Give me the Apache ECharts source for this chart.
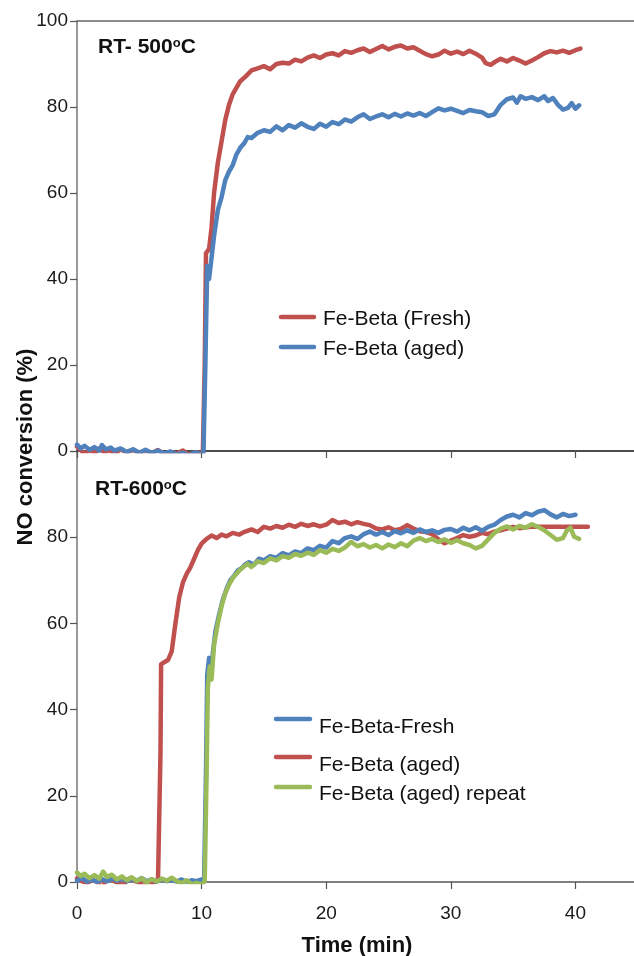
<!DOCTYPE html>
<html>
<head>
<meta charset="utf-8">
<script src="https://cdn.jsdelivr.net/npm/echarts@6/dist/echarts.min.js"></script>
<style>html,body{margin:0;padding:0;background:#fff;}#chart{width:634px;height:956px;}</style>
</head>
<body>
<div id="chart"></div>
<script>
// ---- Data (time in min, NO conversion in %) ----
var xTicks = [0, 10, 20, 30, 40];
var yTicks = [0, 20, 40, 60, 80, 100];

// Panel 1: RT-500oC
var rt500Fresh = [
 [0,1.0],[0.3,0.2],[0.6,-0.8],[1.0,0.3],[1.4,-0.5],[1.8,0.6],[2.2,-0.3],[2.6,0.2],[3.0,-0.6],[3.5,0.4],
 [4.0,-0.4],[4.5,0.3],[5.0,-0.7],[5.5,0.1],[6.0,-0.5],[6.5,0.2],[7.0,-0.8],[7.5,-0.2],[8.0,-0.6],[8.5,0.1],
 [9.0,-0.9],[9.5,-0.3],[9.9,-0.5],[10.1,-0.3],[10.25,20],[10.35,46],[10.6,47],[10.8,52],[11.0,60],[11.3,67],
 [11.6,72],[11.9,77],[12.2,80.5],[12.5,83],[12.8,84.5],[13.1,86],[13.5,87],[14.0,88.5],[14.5,89],[15.0,89.5],
 [15.5,88.8],[16.0,90],[16.5,90.3],[17.0,90.1],[17.5,91],[18.0,90.6],[18.5,91.5],[19.0,92],[19.5,91.4],[20.0,92.2],
 [20.5,92.5],[21,92],[21.5,93],[22,92.6],[22.5,93.2],[23,93.6],[23.5,92.8],[24,93.5],[24.5,94.2],[25,93.4],
 [25.5,94],[26,94.3],[26.5,93.6],[27,93.9],[27.5,93.1],[28,92.3],[28.5,91.8],[29,92.2],[29.5,93.1],[30,92.4],
 [30.5,92.9],[31,92.3],[31.5,93.1],[32,92.4],[32.5,91.5],[32.8,90.2],[33.2,89.8],[33.6,90.6],[34,91.2],[34.5,90.6],
 [35,91.4],[35.5,90.8],[36,90.1],[36.5,90.8],[37,91.6],[37.5,92.5],[38,93],[38.5,92.7],[39,93.1],[39.5,92.6],
 [40,93.2],[40.4,93.6]
];
var rt500Aged = [
 [0,1.5],[0.3,0.6],[0.6,1.2],[1.0,0.3],[1.4,0.9],[1.8,0.1],[2.0,1.4],[2.3,0.4],[2.7,0.8],[3.0,0.1],
 [3.5,0.6],[4.0,-0.2],[4.5,0.4],[5.0,-0.4],[5.5,0.3],[6.0,-0.5],[6.5,0.1],[7.0,-0.6],[7.5,-0.1],[8.0,-0.8],
 [8.5,-0.4],[9.0,-1.0],[9.5,-0.3],[9.9,-0.8],[10.15,-0.5],[10.3,20],[10.45,43],[10.6,40],[10.8,45],[11.0,50],
 [11.3,56],[11.6,59],[11.9,63],[12.2,65],[12.5,66.5],[12.8,69],[13.1,70.5],[13.4,71.5],[13.7,73],[14.0,72.8],
 [14.5,74],[15.0,74.6],[15.5,74.2],[16.0,75.5],[16.5,74.6],[17.0,75.8],[17.5,75.2],[18.0,76.2],[18.5,75.4],[19.0,74.9],
 [19.5,76.1],[20.0,75.4],[20.5,76.5],[21.0,76.0],[21.5,77.1],[22,76.6],[22.5,77.6],[23,78.3],[23.5,77.2],[24,77.8],
 [24.5,78.3],[25,77.6],[25.5,78.4],[26,77.8],[26.5,78.5],[27,78.0],[27.5,78.6],[28,77.9],[28.5,78.8],[29,79.7],
 [29.5,79.2],[30,79.6],[30.5,79.1],[31,78.6],[31.5,79.3],[32,79.0],[32.5,78.8],[33,77.9],[33.5,78.3],[34,80.5],
 [34.5,81.8],[35,82.2],[35.3,81.0],[35.6,82.5],[36,81.9],[36.5,82.3],[37,81.6],[37.5,82.5],[37.8,81.4],[38.2,82.1],
 [38.6,80.5],[39,79.4],[39.4,79.8],[39.7,80.9],[40,79.6],[40.3,80.4]
];

// Panel 2: RT-600oC
var rt600Fresh = [
 [0,0.3],[0.4,0.9],[0.8,0.1],[1.2,0.6],[1.6,0.0],[2.0,0.7],[2.4,0.2],[2.8,0.8],[3.2,0.3],[3.6,0.9],
 [4.0,0.2],[4.4,0.7],[4.8,0.3],[5.2,0.9],[5.6,0.2],[6.0,0.6],[6.4,0.1],[6.8,0.7],[7.2,0.2],[7.6,0.5],
 [8.0,0.1],[8.4,0.6],[8.8,0.0],[9.2,0.4],[9.6,0.2],[10.0,0.6],[10.2,0.3],[10.35,25],[10.45,48],[10.6,52],
 [10.75,49],[10.9,53],[11.1,58],[11.4,62],[11.7,65.5],[12.0,68],[12.3,70],[12.6,71],[12.9,72.3],[13.2,72.8],
 [13.5,73.7],[13.8,74.2],[14.2,73.6],[14.6,75.0],[15.0,74.6],[15.5,75.6],[16.0,75.2],[16.5,76.3],[17.0,75.8],[17.5,76.7],
 [18.0,76.3],[18.5,77.4],[19.0,77.0],[19.5,78.0],[20.0,77.6],[20.5,79.1],[21.0,78.6],[21.5,79.8],[22.0,80.2],[22.5,79.6],
 [23.0,80.7],[23.5,81.3],[24.0,80.6],[24.5,81.2],[25.0,80.5],[25.5,81.4],[26,80.9],[26.5,81.6],[27,81.0],[27.5,81.8],
 [28,81.2],[28.5,81.6],[29,81.0],[29.5,81.7],[30,81.9],[30.5,81.3],[31,82.2],[31.5,81.6],[32,82.3],[32.5,81.5],
 [33,82.4],[33.5,82.9],[34,84.0],[34.5,84.8],[35,85.2],[35.5,84.6],[36,85.6],[36.5,85.1],[37,85.9],[37.5,86.3],
 [38,85.3],[38.5,84.6],[39,85.4],[39.5,84.9],[40.0,85.2]
];
var rt600Aged = [
 [0,0.8],[0.4,0.2],[0.8,-0.3],[1.2,0.5],[1.6,0.1],[2.0,-1.5],[2.3,0.3],[2.7,0.8],[3.1,0.0],[3.5,-0.6],
 [3.7,-2.5],[3.9,0.4],[4.3,0.9],[4.7,0.2],[5.1,-0.4],[5.4,-1.2],[5.7,0.1],[6.1,-0.2],[6.5,0.3],[6.65,0.1],
 [6.7,30],[6.75,50.5],[7.0,51],[7.3,51.5],[7.6,53.5],[7.9,60],[8.2,66],[8.5,69.5],[8.8,71.5],[9.1,73],
 [9.4,75],[9.7,77],[10.0,78.5],[10.4,79.6],[10.8,80.4],[11.2,79.8],[11.6,80.6],[12.0,80.2],[12.5,81.0],[13.0,80.6],
 [13.5,81.3],[14.0,81.8],[14.5,81.2],[15.0,82.4],[15.5,82.0],[16.0,82.6],[16.5,82.2],[17,82.9],[17.5,82.4],[18,83.1],
 [18.5,82.6],[19,83.0],[19.5,82.5],[20,82.9],[20.5,84.0],[21,83.3],[21.5,83.6],[22,83.0],[22.5,83.5],[23,83.1],
 [23.5,82.8],[24,82.0],[24.5,81.8],[25,82.3],[25.5,81.6],[26,81.9],[26.5,82.8],[27,82.0],[27.5,81.4],[28,81.2],
 [28.5,80.7],[29,79.5],[29.5,78.6],[30,79.2],[30.5,79.8],[31,80.5],[31.5,80.1],[32,80.4],[32.5,81.0],[33,80.7],
 [33.5,81.3],[34,81.6],[34.5,82.0],[35,82.4],[35.5,82.1],[36,82.3],[36.5,82.4],[37,82.4],[41,82.4]
];
var rt600AgedRepeat = [
 [0,2.2],[0.3,1.4],[0.6,1.9],[1.0,0.9],[1.4,1.6],[1.8,0.8],[2.1,2.4],[2.4,1.2],[2.8,1.7],[3.2,0.6],
 [3.6,1.3],[4.0,0.4],[4.4,1.1],[4.8,0.2],[5.2,0.9],[5.6,-0.1],[6.0,0.7],[6.4,0.1],[6.8,0.8],[7.2,0.3],
 [7.6,1.0],[8.0,0.2],[8.4,-0.3],[8.8,0.4],[9.2,-0.5],[9.6,-0.2],[10.0,-0.6],[10.25,0.2],[10.4,25],[10.5,45],
 [10.65,50],[10.8,47],[11.0,55],[11.3,60],[11.6,64],[11.9,67],[12.2,69],[12.5,70.5],[12.8,71.5],[13.1,72.5],
 [13.4,73.2],[13.7,73.8],[14.0,73.1],[14.5,74.4],[15.0,74.0],[15.5,75.1],[16.0,74.6],[16.5,75.6],[17.0,75.2],[17.5,76.1],
 [18.0,75.7],[18.5,76.4],[19.0,75.9],[19.5,77.0],[20.0,76.4],[20.5,77.3],[21.0,76.8],[21.5,77.6],[22.0,78.9],[22.5,77.9],
 [23.0,78.4],[23.5,77.6],[24,78.2],[24.5,77.4],[25,78.3],[25.5,77.7],[26,78.6],[26.5,77.9],[27,79.2],[27.5,79.8],
 [28,79.1],[28.5,79.6],[29,78.9],[29.5,79.5],[30,78.7],[30.5,79.3],[31,78.6],[31.5,78.2],[32,77.4],[32.5,78.0],
 [33,79.5],[33.5,81.0],[34,82.0],[34.5,82.5],[35,81.8],[35.5,82.6],[36,82.2],[36.5,83.0],[37,82.4],[37.5,81.6],
 [38,80.5],[38.5,79.4],[39,79.8],[39.3,81.5],[39.6,82.2],[39.9,80.1],[40.3,79.6]
];

var seriesNames = ['Fe-Beta (Fresh)', 'Fe-Beta (aged)', 'Fe-Beta-Fresh', 'Fe-Beta (aged)', 'Fe-Beta (aged) repeat'];
var RED = '#C0504D', BLUE = '#4F81BD', GREEN = '#9BBB59';
var FONT = '"Liberation Sans", Arial, Helvetica, sans-serif';
var X_MAX = 44.7;

var chart = echarts.init(document.getElementById('chart'), null, {renderer: 'canvas'});

function yAxisCfg(gi, hideTop) {
  return {
    type: 'value', gridIndex: gi, min: 0, max: 100, interval: 20,
    axisLine: {show: true, lineStyle: {color: '#767676', width: 1.5}},
    axisTick: {show: true, length: 7, lineStyle: {color: '#555', width: 1.2}},
    splitLine: {show: false},
    axisLabel: {
      fontSize: 19, color: '#1a1a1a', fontFamily: FONT, margin: 9,
      formatter: function (v) { return (hideTop && v === 100) ? '' : (yTicks.indexOf(v) >= 0 ? String(v) : ''); }
    }
  };
}

function line(name, data, color, xi, yi, z) {
  return {
    name: name, type: 'line', data: data, xAxisIndex: xi, yAxisIndex: yi,
    showSymbol: false, symbol: 'none', smooth: false, z: z,
    lineStyle: {color: color, width: 4.5, join: 'round', cap: 'round'},
    itemStyle: {color: color}, animation: false
  };
}

function legendItem(x1, x2, yLine, yText, color, text) {
  return [
    {type: 'line', shape: {x1: x1, y1: yLine, x2: x2, y2: yLine},
     style: {stroke: color, lineWidth: 4.5, lineCap: 'round'}},
    {type: 'text', left: x2 + 9, top: yText - 12,
     style: {text: text, fontSize: 21, fontFamily: FONT, fill: '#111'}}
  ];
}

var graphics = [];
graphics = graphics.concat(legendItem(281, 314, 317, 321, RED, seriesNames[0]));
graphics = graphics.concat(legendItem(281, 314, 347, 351, BLUE, seriesNames[1]));
graphics = graphics.concat(legendItem(276, 310, 719, 729, BLUE, seriesNames[2]));
graphics = graphics.concat(legendItem(276, 310, 757, 767, RED, seriesNames[3]));
graphics = graphics.concat(legendItem(276, 310, 787, 796, GREEN, seriesNames[4]));

graphics.push({
  type: 'text', left: 98, top: 37,
  style: {
    text: '{a|RT- 500}{s|o}{a|C}', fontFamily: FONT,
    rich: {a: {fontSize: 21, fontWeight: 'bold', fill: '#111', fontFamily: FONT},
           s: {fontSize: 13, fontWeight: 'bold', fill: '#111', fontFamily: FONT, verticalAlign: 'top'}}
  }
});
graphics.push({
  type: 'text', left: 95, top: 479,
  style: {
    text: '{a|RT-600}{s|o}{a|C}', fontFamily: FONT,
    rich: {a: {fontSize: 21, fontWeight: 'bold', fill: '#111', fontFamily: FONT},
           s: {fontSize: 13, fontWeight: 'bold', fill: '#111', fontFamily: FONT, verticalAlign: 'top'}}
  }
});
graphics.push({
  type: 'text', x: 26, y: 447, rotation: Math.PI / 2,
  style: {text: 'NO conversion (%)', fontSize: 22, fontWeight: 'bold', fontFamily: FONT,
          fill: '#111', align: 'center', verticalAlign: 'middle'}
});
graphics.push({
  type: 'text', x: 357, y: 946,
  style: {text: 'Time (min)', fontSize: 22, fontWeight: 'bold', fontFamily: FONT,
          fill: '#111', align: 'center', verticalAlign: 'middle'}
});

var option = {
  backgroundColor: '#fff',
  animation: false,
  textStyle: {fontFamily: FONT},
  grid: [
    {left: 77, top: 21, right: 0, height: 430},
    {left: 77, top: 451, right: 0, height: 431}
  ],
  xAxis: [
    {type: 'value', gridIndex: 0, position: 'bottom', min: 0, max: X_MAX, interval: 10,
     axisLine: {show: true, onZero: false, lineStyle: {color: '#111', width: 1.5}},
     axisTick: {show: true, length: 7, customValues: xTicks, lineStyle: {color: '#555', width: 1.2}},
     axisLabel: {show: false}, splitLine: {show: false}},
    {type: 'value', gridIndex: 0, position: 'top', min: 0, max: X_MAX, interval: 10,
     axisLine: {show: true, onZero: false, lineStyle: {color: '#666', width: 1.5}},
     axisTick: {show: false}, axisLabel: {show: false}, splitLine: {show: false}},
    {type: 'value', gridIndex: 1, position: 'bottom', min: 0, max: X_MAX, interval: 10,
     axisLine: {show: true, onZero: false, lineStyle: {color: '#555', width: 1.5}},
     axisTick: {show: true, length: 7, customValues: xTicks, lineStyle: {color: '#555', width: 1.2}},
     axisLabel: {fontSize: 19, color: '#1a1a1a', fontFamily: FONT, margin: 22, customValues: xTicks,
                 formatter: function (v) { return xTicks.indexOf(v) >= 0 ? String(v) : ''; }},
     splitLine: {show: false}}
  ],
  yAxis: [yAxisCfg(0, false), yAxisCfg(1, true)],
  series: [
    line(seriesNames[0], rt500Fresh, RED, 0, 0, 2),
    line(seriesNames[1], rt500Aged, BLUE, 0, 0, 3),
    line(seriesNames[3], rt600Aged, RED, 2, 1, 2),
    line(seriesNames[2], rt600Fresh, BLUE, 2, 1, 3),
    line(seriesNames[4], rt600AgedRepeat, GREEN, 2, 1, 4)
  ],
  graphic: graphics
};
chart.setOption(option);
</script>
</body>
</html>
